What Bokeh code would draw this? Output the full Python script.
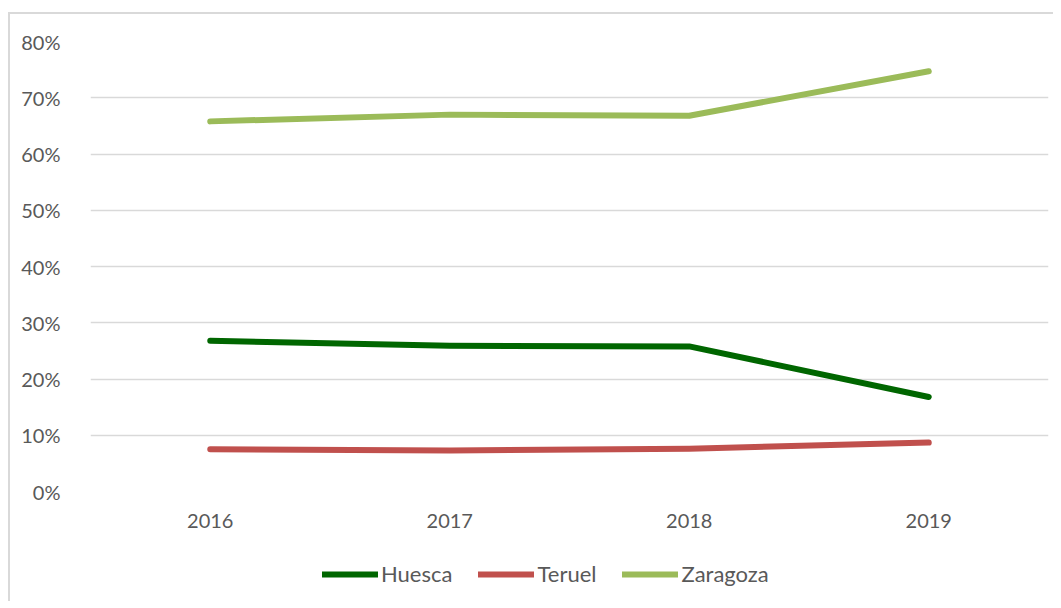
from bokeh.plotting import figure
from bokeh.layouts import column
from bokeh.models import Legend, LegendItem, NumeralTickFormatter, FixedTicker, Range1d, FactorRange
from bokeh.embed import file_html
from bokeh.resources import INLINE

years = ["2016", "2017", "2018", "2019"]
huesca = [0.268, 0.259, 0.258, 0.168]
teruel = [0.075, 0.073, 0.076, 0.087]
zaragoza = [0.658, 0.670, 0.668, 0.747]
series_names = ["Huesca", "Teruel", "Zaragoza"]
colors = ["#006600", "#C0504D", "#9BBB59"]

FONT = "Lato"
TXT = "#595959"
LINE_W = 6

p = figure(frame_width=958, frame_height=450, x_range=FactorRange(*years, range_padding=0),
           y_range=Range1d(0, 0.8), output_backend="svg", toolbar_location=None,
           min_border_left=80, min_border_right=5, min_border_top=27, min_border_bottom=40)
p.outline_line_color = None

for name, vals, c in zip(series_names, [huesca, teruel, zaragoza], colors):
    p.line(years, vals, line_color=c, line_width=LINE_W, line_cap="round", line_join="round")

p.yaxis.ticker = FixedTicker(ticks=[i / 10 for i in range(9)])
p.yaxis.formatter = NumeralTickFormatter(format="0%")
for ax in (p.xaxis[0], p.yaxis[0]):
    ax.axis_line_color = None
    ax.major_tick_line_color = None
    ax.minor_tick_line_color = None
    ax.major_label_text_font = FONT
    ax.major_label_text_font_size = "20px"
    ax.major_label_text_color = TXT
p.yaxis.major_label_standoff = 24
p.xaxis.major_label_standoff = 16
p.xgrid.grid_line_color = None
p.ygrid.grid_line_color = "#D9D9D9"
p.ygrid.grid_line_width = 1.5

# legend strip below the chart (its lines sit outside the visible range; only the legend shows)
p2 = figure(frame_width=958, frame_height=70, x_range=FactorRange(*years, range_padding=0),
            y_range=Range1d(2, 3), output_backend="svg", toolbar_location=None,
            min_border_left=80, min_border_right=5, min_border_top=0, min_border_bottom=0)
p2.axis.visible = False
p2.grid.visible = False
p2.outline_line_color = None
items = []
for name, vals, c in zip(series_names, [huesca, teruel, zaragoza], colors):
    r = p2.line(years, vals, line_color=c, line_width=LINE_W, line_cap="round")
    items.append(LegendItem(label=name, renderers=[r]))
legend = Legend(items=items, orientation="horizontal", location=(232, 14),
                label_text_font=FONT, label_text_font_size="22px", label_text_color=TXT,
                glyph_width=56, glyph_height=20, label_standoff=3, spacing=26,
                border_line_color=None, background_fill_alpha=0, margin=0, padding=0)
p2.add_layout(legend, "center")

layout = column(p, p2, spacing=0)
layout.styles = {"border-left": "2px solid #D9D9D9", "border-top": "2px solid #D9D9D9",
                 "margin-left": "8px", "margin-top": "12px"}

open("out.html", "w").write(file_html(layout, INLINE))
